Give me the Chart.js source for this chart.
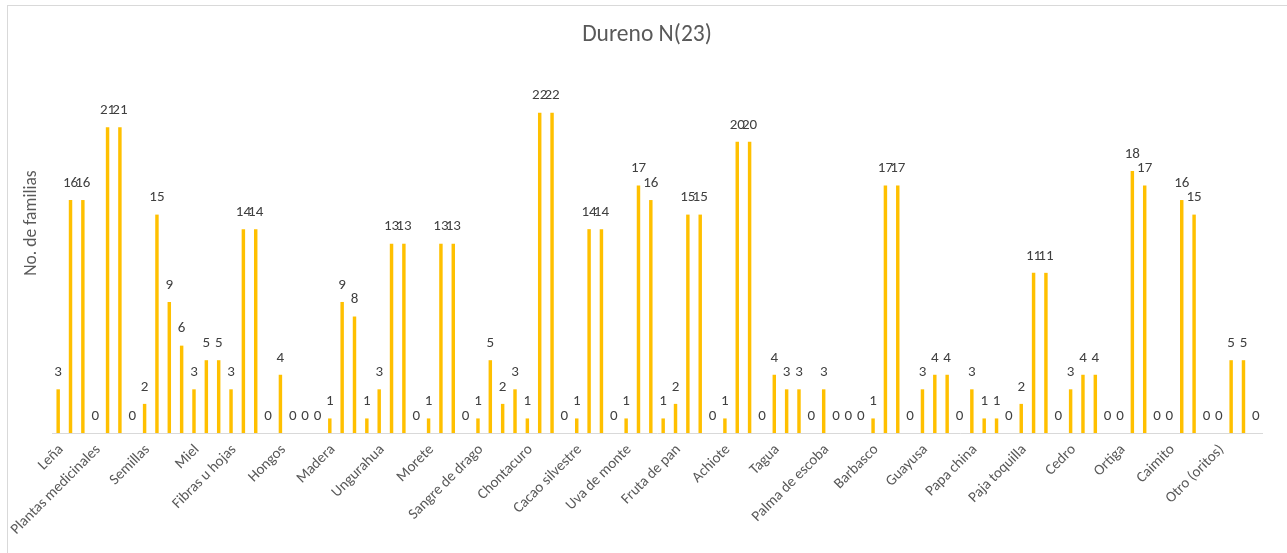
<!DOCTYPE html>
<html>
<head>
<meta charset="utf-8">
<script src="https://cdn.jsdelivr.net/npm/chart.js@4.4.1/dist/chart.umd.min.js"></script>
<style>
    body { margin: 0; background: #ffffff; overflow: hidden; }
    #wrap { position: relative; width: 1287px; height: 553px; }
    #frame {
        position: absolute; left: 7px; top: 5px; width: 1300px; height: 560px;
        border-left: 1px solid #d9d9d9; border-top: 1px solid #d9d9d9;
        pointer-events: none;
    }
</style>
</head>
<body>
<div id="wrap">
    <canvas id="chart" width="1287" height="553"></canvas>
    <div id="frame"></div>
</div>
<script>
const chartTitle = 'Dureno N(23)';
const yTitle = 'No. de familias';

// product names; each name only sits on the first row of its group
const categories = ['Leña', 'Plantas medicinales', 'Semillas', 'Miel', 'Fibras u hojas', 'Hongos',
    'Madera', 'Ungurahua', 'Morete', 'Sangre de drago', 'Chontacuro', 'Cacao silvestre',
    'Uva de monte', 'Fruta de pan', 'Achiote', 'Tagua', 'Palma de escoba', 'Barbasco',
    'Guayusa', 'Papa china', 'Paja toquilla', 'Cedro', 'Ortiga', 'Caimito', 'Otro (oritos)'];
const groupSizes = [3, 4, 4, 3, 4, 4, 4, 4, 4, 4, 4, 4, 4, 4, 4, 4, 4, 4, 4, 4, 4, 4, 4, 4, 4];

const values = [
    3, 16, 16,
    0, 21, 21, 0,
    2, 15, 9, 6,
    3, 5, 5,
    3, 14, 14, 0,
    4, 0, 0, 0,
    1, 9, 8, 1,
    3, 13, 13, 0,
    1, 13, 13, 0,
    1, 5, 2, 3,
    1, 22, 22, 0,
    1, 14, 14, 0,
    1, 17, 16, 1,
    2, 15, 15, 0,
    1, 20, 20, 0,
    4, 3, 3, 0,
    3, 0, 0, 0,
    1, 17, 17, 0,
    3, 4, 4, 0,
    3, 1, 1, 0,
    2, 11, 11, 0,
    3, 4, 4, 0,
    0, 18, 17, 0,
    0, 16, 15, 0,
    0, 5, 5, 0
];

const labels = [];
categories.forEach((name, i) => {
    for (let k = 0; k < groupSizes[i]; k++) {
        labels.push(k === 0 ? name : '');
    }
});

const fontFamily = 'Carlito, Calibri, Lato, sans-serif';

// value labels on top of every bar, plus title and y axis title
const extrasPlugin = {
    id: 'extras',
    afterDatasetsDraw(chart) {
        const ctx = chart.ctx;
        const meta = chart.getDatasetMeta(0);
        ctx.save();
        ctx.font = '15px ' + fontFamily;
        ctx.fillStyle = '#404040';
        ctx.textAlign = 'center';
        ctx.textBaseline = 'middle';
        meta.data.forEach((bar, i) => {
            ctx.fillText(String(values[i]), bar.x, bar.y - 17);
        });

        ctx.fillStyle = '#595959';
        ctx.font = '23.5px ' + fontFamily;
        ctx.fillText(chartTitle, 647, 35);

        ctx.font = '17.5px ' + fontFamily;
        ctx.translate(32, 223);
        ctx.rotate(-Math.PI / 2);
        ctx.fillText(yTitle, 0, 0);
        ctx.restore();
    }
};

const ctx = document.getElementById('chart').getContext('2d');
new Chart(ctx, {
    type: 'bar',
    data: {
        labels: labels,
        datasets: [{
            data: values,
            backgroundColor: '#FFC000',
            borderWidth: 0,
            barPercentage: 0.28,
            categoryPercentage: 1
        }]
    },
    options: {
        responsive: false,
        animation: false,
        devicePixelRatio: 1,
        layout: {
            padding: { top: 69, left: 52, right: 25, bottom: 0 }
        },
        plugins: {
            legend: { display: false },
            tooltip: { enabled: false },
            title: { display: false }
        },
        scales: {
            x: {
                grid: { display: false },
                border: { color: '#d9d9d9', width: 1 },
                ticks: {
                    autoSkip: false,
                    maxRotation: 45,
                    minRotation: 45,
                    padding: 0,
                    labelOffset: 3,
                    color: '#595959',
                    font: { family: fontFamily, size: 15 }
                },
                afterFit: function(scale) {
                    scale.height = 120;
                }
            },
            y: {
                display: false,
                min: 0,
                max: 25
            }
        }
    },
    plugins: [extrasPlugin]
});
</script>
</body>
</html>
